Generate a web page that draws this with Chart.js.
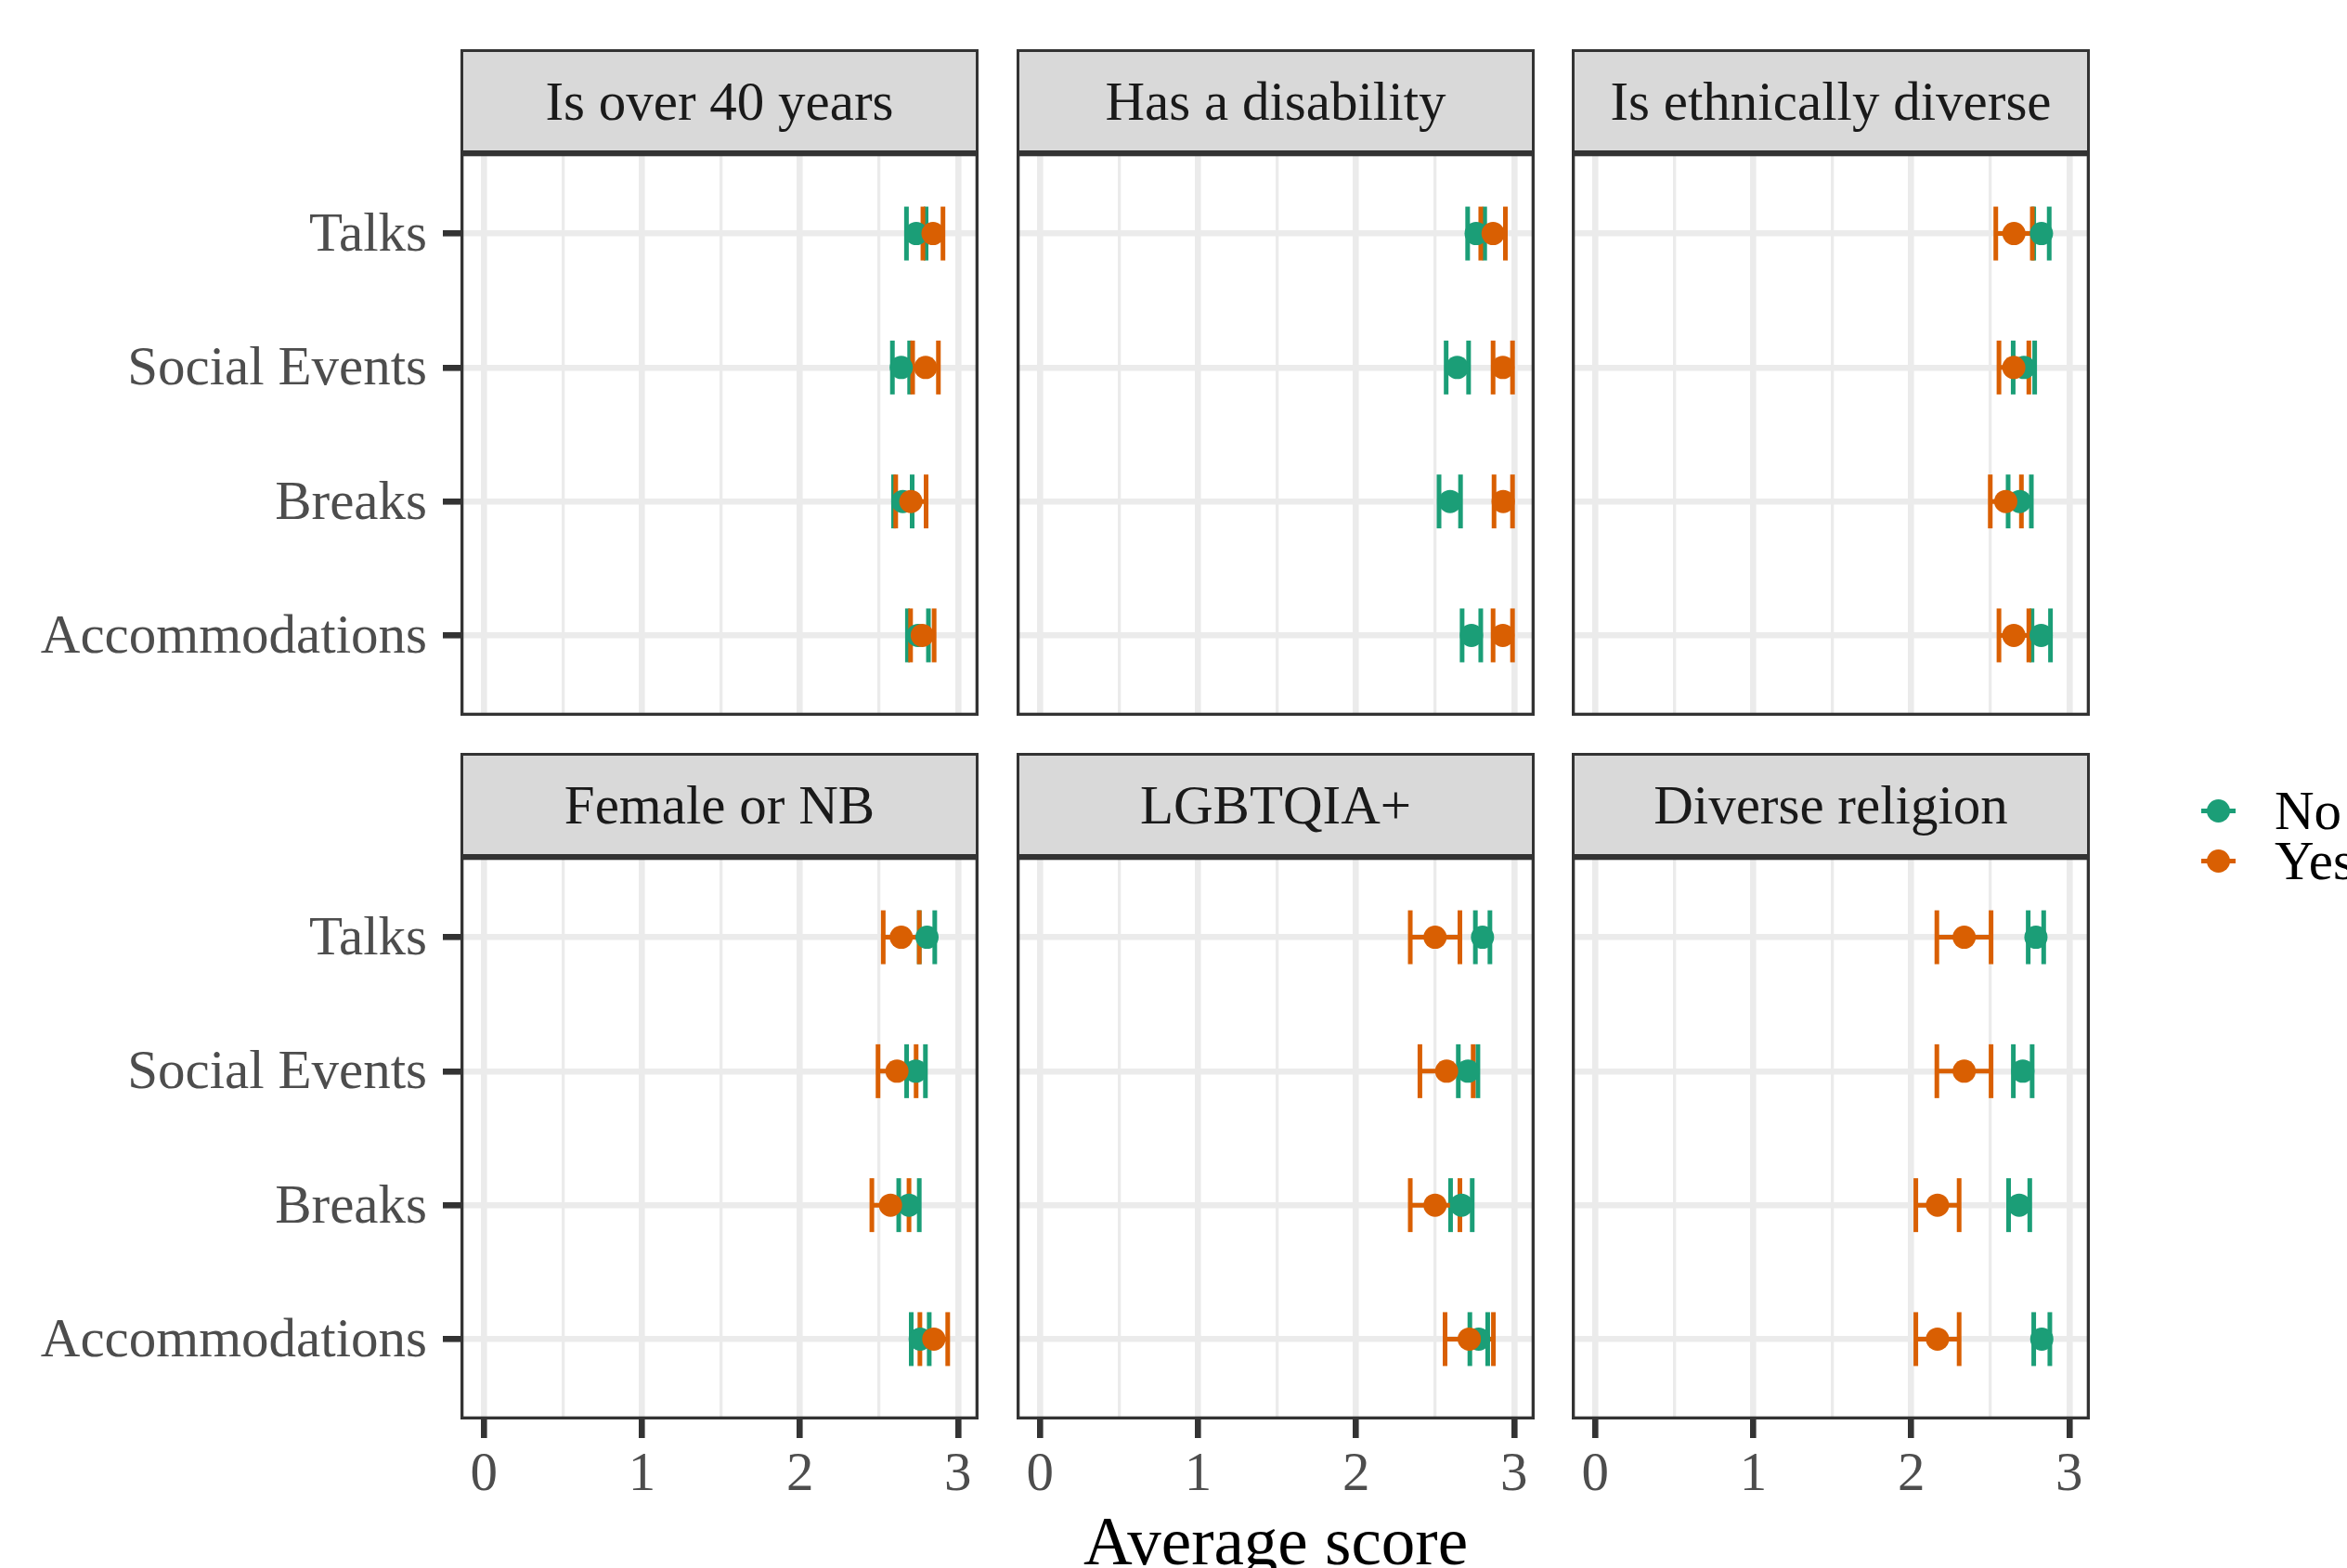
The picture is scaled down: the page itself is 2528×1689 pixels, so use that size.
<!DOCTYPE html>
<html>
<head>
<meta charset="utf-8">
<script src="https://cdn.jsdelivr.net/npm/chart.js@4.4.1/dist/chart.umd.min.js"></script>
<style>
html,body{margin:0;padding:0;background:#fff;width:2528px;height:1689px;overflow:hidden;}
#root{position:relative;width:2528px;height:1689px;overflow:hidden;font-family:'Liberation Serif','Times New Roman',serif;}
#root canvas{position:absolute;}
.strip{position:absolute;box-sizing:border-box;background:#d9d9d9;border:3.3px solid #333333;color:#1a1a1a;font-size:59px;display:flex;align-items:center;justify-content:center;white-space:nowrap;}
.legtext{position:absolute;font-size:59px;line-height:59px;color:#000;white-space:nowrap;}
.legline{position:absolute;height:5px;}
.legdot{position:absolute;width:25px;height:25px;border-radius:50%;}
#xtitle{position:absolute;left:0;width:2750px;text-align:center;font-size:73px;line-height:73px;color:#000;white-space:nowrap;}
</style>
</head>
<body>
<div id="root"></div>
<script>
// ---------- data ----------
const categories = ['Talks', 'Social Events', 'Breaks', 'Accommodations'];
const panelTitles = ['Is over 40 years', 'Has a disability', 'Is ethnically diverse',
                     'Female or NB', 'LGBTQIA+', 'Diverse religion'];
const groups = ['No', 'Yes'];
const xMajorTicks = [0, 1, 2, 3];
const xMinorTicks = [0.5, 1.5, 2.5];

// one row per panel, one value per category (Talks, Social Events, Breaks, Accommodations)
const noMean = [
  [2.736, 2.641, 2.651, 2.747],
  [2.760, 2.640, 2.595, 2.730],
  [2.824, 2.713, 2.686, 2.822],
  [2.804, 2.733, 2.690, 2.761],
  [2.800, 2.708, 2.667, 2.776],
  [2.789, 2.706, 2.683, 2.826]
];
const noLow = [
  [2.674, 2.585, 2.592, 2.680],
  [2.706, 2.570, 2.525, 2.671],
  [2.775, 2.645, 2.613, 2.764],
  [2.755, 2.675, 2.625, 2.704],
  [2.755, 2.647, 2.598, 2.720],
  [2.740, 2.646, 2.616, 2.775]
];
const noHigh = [
  [2.798, 2.694, 2.710, 2.813],
  [2.814, 2.712, 2.661, 2.789],
  [2.873, 2.781, 2.760, 2.881],
  [2.853, 2.794, 2.755, 2.818],
  [2.847, 2.771, 2.735, 2.833],
  [2.838, 2.765, 2.750, 2.877]
];
const yesMean = [
  [2.842, 2.795, 2.702, 2.774],
  [2.867, 2.929, 2.931, 2.929],
  [2.650, 2.649, 2.598, 2.649],
  [2.641, 2.614, 2.573, 2.847],
  [2.500, 2.573, 2.500, 2.716],
  [2.335, 2.335, 2.166, 2.166]
];
const yesLow = [
  [2.778, 2.713, 2.606, 2.700],
  [2.789, 2.867, 2.873, 2.867],
  [2.535, 2.555, 2.500, 2.555],
  [2.527, 2.494, 2.455, 2.759],
  [2.343, 2.404, 2.343, 2.563],
  [2.162, 2.162, 2.029, 2.029]
];
const yesHigh = [
  [2.905, 2.876, 2.798, 2.849],
  [2.945, 2.990, 2.990, 2.990],
  [2.766, 2.744, 2.697, 2.744],
  [2.755, 2.735, 2.690, 2.935],
  [2.657, 2.741, 2.657, 2.869],
  [2.505, 2.505, 2.303, 2.303]
];

// ---------- style / layout ----------
const GREEN = '#1b9e77', ORANGE = '#d95f02';
const FONT = "'Liberation Serif', 'Times New Roman', serif";
const PANEL_L = [496, 1095, 1693];
const PANEL_T = [165, 923];
const PANEL_W = 558, PANEL_H = 606;
const STRIP_T = [53, 811], STRIP_H = 112;
const X_AXIS_H = 130;
const MAJOR_W = 6.6, MINOR_W = 3.3;

const root = document.getElementById('root');

const borderPlugin = {
  id: 'panelBorder',
  afterDraw(chart) {
    const a = chart.chartArea, ctx = chart.ctx, w = 3.3;
    ctx.save();
    ctx.strokeStyle = '#333333';
    ctx.lineWidth = w;
    ctx.strokeRect(a.left + w / 2, a.top + w / 2, a.right - a.left - w, a.bottom - a.top - w);
    ctx.restore();
  }
};

function errData(low, high) {
  const out = [];
  categories.forEach((c, i) => {
    out.push({x: low[i], y: i + 1});
    out.push({x: high[i], y: i + 1});
    out.push({x: NaN, y: NaN});
  });
  return out;
}
function ptData(mean) {
  return categories.map((c, i) => ({x: mean[i], y: i + 1}));
}
function errDataset(label, low, high, color, order) {
  return {
    label, data: errData(low, high), showLine: true, spanGaps: false,
    borderColor: color, borderWidth: 5, tension: 0,
    pointStyle: 'line', pointRotation: 90, pointRadius: 29, pointHoverRadius: 29,
    pointBorderWidth: 5, pointBorderColor: color, pointBackgroundColor: color, order
  };
}
function ptDataset(label, mean, color, order) {
  return {
    label, data: ptData(mean), showLine: false,
    pointStyle: 'circle', pointRadius: 12.5, pointHoverRadius: 12.5,
    pointBorderWidth: 0, pointBackgroundColor: color, backgroundColor: color, borderColor: color, order
  };
}

const isMajor = v => xMajorTicks.includes(v);

function makePanel(idx) {
  const r = Math.floor(idx / 3), c = idx % 3;
  const yW = c === 0 ? PANEL_L[0] : 0;
  const xH = r === 1 ? X_AXIS_H : 0;
  const cv = document.createElement('canvas');
  const cw = yW + PANEL_W, ch = PANEL_H + xH;
  cv.width = cw; cv.height = ch;
  cv.style.width = cw + 'px'; cv.style.height = ch + 'px';
  cv.style.left = (c === 0 ? 0 : PANEL_L[c]) + 'px';
  cv.style.top = PANEL_T[r] + 'px';
  root.appendChild(cv);

  new Chart(cv, {
    type: 'scatter',
    data: {
      datasets: [
        errDataset(groups[0] + ' CI', noLow[idx], noHigh[idx], GREEN, 4),
        errDataset(groups[1] + ' CI', yesLow[idx], yesHigh[idx], ORANGE, 3),
        ptDataset(groups[0], noMean[idx], GREEN, 2),
        ptDataset(groups[1], yesMean[idx], ORANGE, 1)
      ]
    },
    options: {
      responsive: false, animation: false, devicePixelRatio: 1,
      events: [],
      layout: {padding: 0, autoPadding: false},
      plugins: {legend: {display: false}, tooltip: {enabled: false}, title: {display: false}},
      scales: {
        x: {
          type: 'linear', min: -0.148, max: 3.13,
          afterBuildTicks: s => { s.ticks = xMajorTicks.concat(xMinorTicks).sort((a, b) => a - b).map(v => ({value: v})); },
          afterFit: s => { s.height = xH; s.paddingLeft = 0; s.paddingRight = 0; },
          border: {display: false},
          grid: {
            color: '#ebebeb',
            lineWidth: ctx => isMajor(ctx.tick.value) ? MAJOR_W : MINOR_W,
            drawTicks: r === 1, tickLength: 20,
            tickWidth: ctx => isMajor(ctx.tick.value) ? MAJOR_W : 0,
            tickColor: ctx => isMajor(ctx.tick.value) ? '#333333' : 'rgba(0,0,0,0)'
          },
          ticks: {
            display: r === 1, autoSkip: false, maxRotation: 0, padding: 5,
            color: '#4d4d4d', font: {family: FONT, size: 59},
            callback: v => isMajor(v) ? String(v) : ''
          }
        },
        y: {
          type: 'linear', reverse: true, min: 0.4, max: 4.6,
          afterBuildTicks: s => { s.ticks = categories.map((cat, i) => ({value: i + 1})); },
          afterFit: s => { s.width = yW; s.paddingTop = 0; s.paddingBottom = 0; },
          border: {display: false},
          grid: {
            color: '#ebebeb', lineWidth: MAJOR_W,
            drawTicks: c === 0, tickLength: 19, tickWidth: MAJOR_W, tickColor: '#333333'
          },
          ticks: {
            display: c === 0, autoSkip: false, padding: 17, labelOffset: 3,
            color: '#4d4d4d', font: {family: FONT, size: 59},
            callback: v => categories[v - 1]
          }
        }
      }
    },
    plugins: [borderPlugin]
  });

  const st = document.createElement('div');
  st.className = 'strip';
  st.style.left = PANEL_L[c] + 'px';
  st.style.top = STRIP_T[r] + 'px';
  st.style.width = PANEL_W + 'px';
  st.style.height = STRIP_H + 'px';
  st.textContent = panelTitles[idx];
  root.appendChild(st);
}

panelTitles.forEach((t, i) => makePanel(i));

// x axis title
const xt = document.createElement('div');
xt.id = 'xtitle';
xt.textContent = 'Average score';
xt.style.left = (1374 - 1375) + 'px';
xt.style.top = '1624px';
root.appendChild(xt);

// legend
const legColors = [GREEN, ORANGE];
const legY = [873, 927];
groups.forEach((g, i) => {
  const ln = document.createElement('div');
  ln.className = 'legline';
  ln.style.background = legColors[i];
  ln.style.left = '2371px'; ln.style.width = '37px';
  ln.style.top = (legY[i] - 2.5) + 'px';
  root.appendChild(ln);
  const dot = document.createElement('div');
  dot.className = 'legdot';
  dot.style.background = legColors[i];
  dot.style.left = (2389 - 12.5) + 'px';
  dot.style.top = (legY[i] - 12.5) + 'px';
  root.appendChild(dot);
  const tx = document.createElement('div');
  tx.className = 'legtext';
  tx.style.left = '2450px';
  tx.style.top = (legY[i] - 29.5) + 'px';
  tx.textContent = g;
  root.appendChild(tx);
});
</script>
</body>
</html>
